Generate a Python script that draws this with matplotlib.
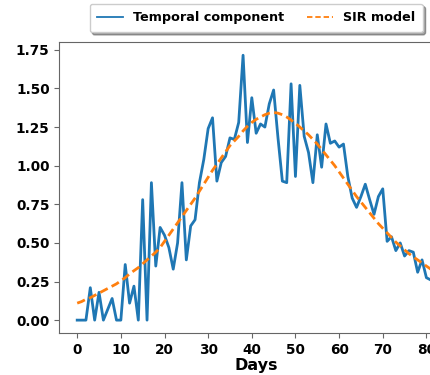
import numpy as np
import matplotlib.pyplot as plt

# Daily values
days = np.arange(0, 83)

temporal = [0.0, 0.0, 0.0, 0.21, 0.0, 0.18, 0.0, 0.07, 0.14, 0.0,
            0.0, 0.36, 0.11, 0.22, 0.0, 0.78, 0.0, 0.89, 0.35, 0.60,
            0.55, 0.47, 0.33, 0.50, 0.89, 0.39, 0.61, 0.65, 0.89, 1.04,
            1.24, 1.31, 0.90, 1.02, 1.06, 1.18, 1.17, 1.28, 1.715, 1.15,
            1.44, 1.21, 1.27, 1.25, 1.40, 1.49, 1.18, 0.90, 0.89, 1.53,
            0.93, 1.52, 1.19, 1.085, 0.89, 1.20, 0.99, 1.27, 1.145, 1.16,
            1.12, 1.14, 0.93, 0.79, 0.73, 0.80, 0.88, 0.78, 0.685, 0.80,
            0.85, 0.51, 0.54, 0.45, 0.50, 0.415, 0.45, 0.44, 0.31, 0.39,
            0.275, 0.26, 0.25]

sir_model = [0.11, 0.12, 0.135, 0.145, 0.16, 0.175, 0.19, 0.205, 0.22, 0.235,
             0.255, 0.275, 0.30, 0.32, 0.34, 0.365, 0.39, 0.415, 0.44, 0.47,
             0.51, 0.55, 0.59, 0.63, 0.67, 0.71, 0.75, 0.79, 0.835, 0.88,
             0.925, 0.97, 1.01, 1.05, 1.09, 1.13, 1.16, 1.19, 1.225, 1.255,
             1.28, 1.30, 1.315, 1.33, 1.34, 1.345, 1.34, 1.33, 1.315, 1.295,
             1.275, 1.25, 1.225, 1.20, 1.17, 1.14, 1.105, 1.07, 1.035, 1.0,
             0.96, 0.92, 0.88, 0.84, 0.80, 0.765, 0.73, 0.695, 0.66, 0.625,
             0.595, 0.565, 0.535, 0.505, 0.48, 0.455, 0.43, 0.41, 0.39, 0.37,
             0.35, 0.33, 0.31]

fig = plt.figure(figsize=(4.31, 3.75), dpi=100)
# axes run past the right edge, like the cropped original
ax = fig.add_axes([0.1376, 0.111, 0.9135, 0.777])

ax.plot(days, temporal, color='#1f77b4', linewidth=2.0, label='Temporal component')
ax.plot(days, sir_model, color='#ff7f0e', linewidth=2.0, linestyle=(0, (3.0, 1.6)),
        label='SIR model')

ax.set_xticks(np.arange(0, 90, 10))
ax.set_yticks(np.arange(0, 2.0, 0.25))
ax.set_yticklabels(['%.2f' % v for v in np.arange(0, 2.0, 0.25)])
for lbl in ax.get_xticklabels() + ax.get_yticklabels():
    lbl.set_fontweight('bold')
    lbl.set_fontsize(9.8)
ax.set_xlabel('Days', fontsize=11.5, fontweight='bold', labelpad=1)

for sp in ax.spines.values():
    sp.set_color('0.4')
ax.tick_params(color='0.4')

leg = ax.legend(loc='lower center', bbox_to_anchor=(0.5, 1.012), ncol=2, shadow=True,
                borderpad=0.6, columnspacing=1.8,
                prop={'weight': 'bold', 'size': 9.2})
for h in leg.legend_handles:
    h.set_linewidth(1.3)

fig.savefig('out.png', dpi=100)
